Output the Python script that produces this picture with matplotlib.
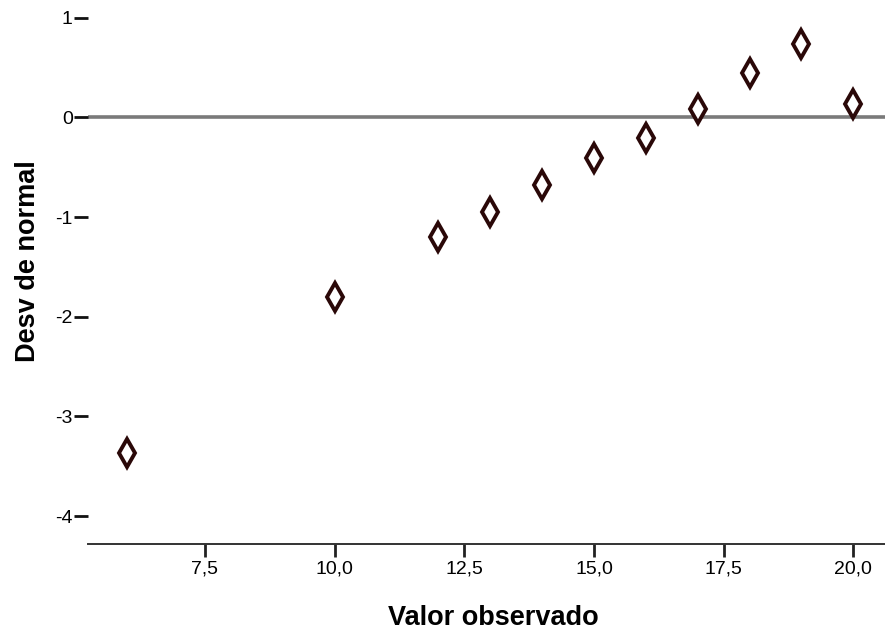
import matplotlib
matplotlib.use("Agg")
import matplotlib.pyplot as plt
from matplotlib.ticker import FixedLocator, FuncFormatter

plt.rcParams['font.family'] = ['Liberation Sans', 'DejaVu Sans']

# Observed values and their deviation from the normal
observed = [6, 10, 12, 13, 14, 15, 16, 17, 18, 19, 20]
deviation = [-3.37, -1.80, -1.20, -0.95, -0.68, -0.41, -0.21, 0.085, 0.445, 0.735, 0.135]

x_ticks = [7.5, 10.0, 12.5, 15.0, 17.5, 20.0]
y_ticks = [1, 0, -1, -2, -3, -4]

W, H = 885, 632
fig = plt.figure(figsize=(W / 100, H / 100), dpi=100)
left, right, bottom, top = 88, 885, 544, 0
ax = fig.add_axes([left / W, 1 - bottom / H, (right - left) / W, (bottom - top) / H])

ax.set_xlim(5.245, 20.61)
ax.set_ylim(-4.28, 1.177)

# reference line at zero
ax.axhline(0, color='#7a7a7a', linewidth=2.6, zorder=1)

ax.plot(observed, deviation, linestyle='none', marker='d', markersize=14,
        markerfacecolor='white', markeredgecolor='#2a0808', markeredgewidth=2.8,
        zorder=3)

for side in ('top', 'right', 'left'):
    ax.spines[side].set_visible(False)
ax.spines['bottom'].set_linewidth(1.4)
ax.spines['bottom'].set_color('#333333')

ax.xaxis.set_major_locator(FixedLocator(x_ticks))
ax.xaxis.set_major_formatter(FuncFormatter(lambda v, p: f"{v:.1f}".replace('.', ',')))
ax.yaxis.set_major_locator(FixedLocator(y_ticks))
ax.yaxis.set_major_formatter(FuncFormatter(lambda v, p: f"{int(round(v))}"))

ax.tick_params(axis='x', direction='out', length=9, width=2, color='#222222',
               labelsize=14, pad=3)
ax.tick_params(axis='y', direction='out', length=10, width=2, color='#111111',
               labelsize=14, pad=1)

ax.set_xlabel('Valor observado', fontsize=19.5, fontweight='bold', labelpad=20)
ax.set_ylabel('Desv de normal', fontsize=19.5, fontweight='bold', labelpad=10)
ax.xaxis.label.set_x(0.509)
ax.yaxis.label.set_y(0.52)

fig.savefig('out.png', dpi=100)
